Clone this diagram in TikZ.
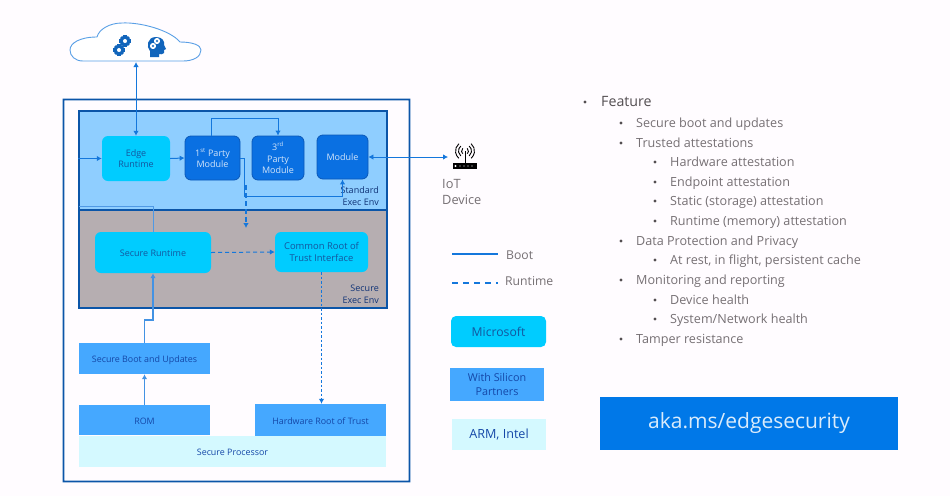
\documentclass[tikz,border=0pt]{standalone}
\usepackage{fontspec}
\setmainfont{Open Sans}
\usetikzlibrary{arrows.meta,calc}
\definecolor{bgc}{HTML}{FFFCFF}
\definecolor{framec}{HTML}{0B55A8}
\definecolor{stdfill}{HTML}{8FCEFF}
\definecolor{secfill}{HTML}{B6AEB1}
\definecolor{msfill}{HTML}{00CCFF}
\definecolor{modfill}{HTML}{0A70E2}
\definecolor{modline}{HTML}{0A58B8}
\definecolor{siliconfill}{HTML}{45A8FF}
\definecolor{armfill}{HTML}{D4F9FF}
\definecolor{akafill}{HTML}{0078E8}
\definecolor{conn}{HTML}{1477DC}
\definecolor{darktxt}{HTML}{14569E}
\definecolor{navytxt}{HTML}{1548A8}
\definecolor{greytxt}{HTML}{767074}
\tikzset{
  envbox/.style={draw=framec,line width=1.5pt,inner sep=0pt},
  msbox/.style={fill=msfill,rounded corners=6pt,inner sep=0pt,align=center,text=darktxt,font=\fontsize{9}{11.5}\selectfont},
  modbox/.style={fill=modfill,draw=modline,line width=.8pt,rounded corners=6pt,inner sep=0pt,align=center,text=white!82!modfill,font=\fontsize{9}{11.5}\selectfont},
  siliconbox/.style={fill=siliconfill,inner sep=0pt,align=center,text=navytxt,font=\fontsize{8.9}{11}\selectfont},
  armbox/.style={fill=armfill,inner sep=0pt,align=center,text=navytxt,font=\fontsize{8.9}{11}\selectfont},
  oneline/.style={text height=8pt,text depth=0pt},
  envlabel/.style={anchor=east,inner sep=0pt,align=right,text=navytxt!70!black,font=\fontsize{9}{12}\selectfont},
  boot/.style={draw=conn,line width=1pt,-{Latex[length=5pt,width=5.5pt]}},
  bootboth/.style={draw=conn,line width=1pt,{Latex[length=5pt,width=5.5pt]}-{Latex[length=5pt,width=5.5pt]}},
  runtime/.style={draw=conn,line width=1pt,dash pattern=on 4pt off 3pt,-{Latex[length=5pt,width=5.5pt]}},
  bul/.style={anchor=base west,inner sep=0pt,text=greytxt,font=\fontsize{12.6}{15}\selectfont},
  dotb/.style={circle,fill=greytxt!70!black,inner sep=0pt,minimum size=3.2pt},
  legendtxt/.style={anchor=west,inner sep=0pt,text=greytxt,font=\fontsize{12.2}{14}\selectfont},
}
\newcommand{\gearshape}[4]{% x y radius colour
  \foreach \a in {0,45,...,315}{
    \fill[#4,rotate around={\a:(#1,#2)}] ($(#1,#2)+(-#3*0.28,0)$) rectangle ($(#1,#2)+(#3*0.28,-#3)$);
  }
  \fill[#4] (#1,#2) circle[radius=#3*0.76];
  \fill[white] (#1,#2) circle[radius=#3*0.36];
}
\begin{document}
\begin{tikzpicture}[x=1pt,y=-1pt]
\useasboundingbox (0,0) rectangle (950,496);
\fill[bgc] (0,0) rectangle (950,496);

% outer frame, as a filled ring
\fill[framec,even odd rule] (62.6,98.6) rectangle (410.4,482.4) (64.4,100.4) rectangle (408.6,480.6);

% cloud
\draw[draw=conn!70,line width=.9pt,fill=white]
  (83,61) .. controls (75,61) and (70,56) .. (70,50)
  .. controls (70,43) and (80,37) .. (97,37)
  .. controls (99,29) and (110,23) .. (122,23)
  .. controls (140,22) and (170,30) .. (180,42)
  .. controls (192,42) and (201,45) .. (201,50)
  .. controls (201,57) and (193,61) .. (183,61) -- cycle;
\coordinate (cloudb) at (136,62);
\gearshape{125}{41}{5.6}{conn!85!black}
\gearshape{119}{50}{5.6}{conn!85!black}
\fill[conn!85!black] (150,57) -- (150,51) .. controls (146,47) and (147,37) .. (156,37)
  .. controls (162,37) and (165,41) .. (164,45) -- (166,49) -- (164,50) -- (164,53)
  .. controls (163,55) and (160,54) .. (159,54) -- (159,57) -- cycle;
\gearshape{157}{41}{3}{white}
\fill[conn!85!black] (157,41) circle[radius=1.1];
\gearshape{153}{46}{3}{white}
\fill[conn!85!black] (153,46) circle[radius=1.1];

% environments
\node[envbox,fill=stdfill,minimum width=308pt,minimum height=99pt] (stdenv) at (233,160.5) {};
\node[envbox,fill=secfill,minimum width=308pt,minimum height=98pt] (secenv) at (233,259) {};
\node[envlabel] (stdl) at (379,196) {Standard\\Exec Env};
\node[envlabel] (secl) at (379,294) {Secure\\Exec Env};

% boxes
\node[msbox,minimum width=68pt,minimum height=45pt] (edge) at (136,158.5) {Edge\\Runtime};
\node[modbox,minimum width=55pt,minimum height=44pt] (first) at (212.5,158) {1\textsuperscript{st} Party\\Module};
\node[modbox,minimum width=52pt,minimum height=44pt] (third) at (278,158) {3\textsuperscript{rd}\\Party\\Module};
\node[modbox,minimum width=51pt,minimum height=44pt] (module) at (342.5,157) {Module};
\node[msbox,oneline,minimum width=116pt,minimum height=41pt] (secrt) at (153,252.5) {Secure Runtime};
\node[msbox,font=\fontsize{9.4}{11.5}\selectfont,minimum width=93pt,minimum height=40pt] (crot) at (321.5,252) {Common Root of\\Trust Interface};
\node[siliconbox,oneline,minimum width=131pt,minimum height=31pt] (sboot) at (144.5,358.5) {Secure Boot and Updates};
\node[siliconbox,oneline,minimum width=131pt,minimum height=30pt] (rom) at (144.5,420) {ROM};
\node[siliconbox,oneline,minimum width=131pt,minimum height=32pt] (hwrot) at (320.5,420) {Hardware Root of Trust};
\node[armbox,oneline,minimum width=307pt,minimum height=31pt] (sproc) at (232.5,451.5) {Secure Processor};

% router
\fill[black] (453,163) rectangle (477,169);
\foreach \x in {460,464,468,472}{\fill[white] (\x,166) circle[radius=.6];}
\fill[white] (455.5,166) circle[radius=1.2];
\draw[black,line width=1pt] (465,151) -- (465,163);
\foreach \r in {3.5,6.5,9.5}{
  \draw[black,line width=.9pt] ($(465,151)+(-50:\r)$) arc[start angle=-50,end angle=50,radius=\r];
  \draw[black,line width=.9pt] ($(465,151)+(-130:\r)$) arc[start angle=-130,end angle=-230,radius=\r];
}
\coordinate (iot) at (448,157);
\node[legendtxt,align=left,font=\fontsize{12.8}{16}\selectfont] (iotl) at (442,192) {IoT\\Device};

% connectors
\draw[bootboth] (cloudb) -- (edge.north);
\draw[boot] (stdenv.west |- edge.west) -- (edge.west);
\draw[boot] (edge.east) -- (first.west);
\coordinate (tr) at (211,118);
\draw[boot] (tr |- first.north) -- (tr) -| (third.north);
\coordinate (br) at (244,196);
\draw[boot] (first.east) -- (first.east -| br) -- (br) -| (module.south);
\coordinate (dtop) at (246,185);
\coordinate (dbot) at (246,228);
\draw[runtime,line width=1.5pt,dash pattern=on 5pt off 3pt] (dtop) -- (dbot);
\draw[bootboth,line width=.8pt] (module.east) -- (iot);
\coordinate (secin) at (79,206);
\draw[boot,draw=conn!75,-] (secin) -| (secrt.north);
\coordinate (sb) at (153,320);
\draw[boot,draw=conn!80,line width=1.3pt] (sboot.north) -- (sboot.north |- sb) -- (sb) -- (secrt.south);
\draw[runtime] (secrt.east) -- (crot.west);
\draw[boot,draw=conn!80,line width=1.3pt] (rom.north) -- (sboot.south);
\draw[runtime,dash pattern=on 2.5pt off 2pt,line width=1pt] (crot.south) -- (hwrot.north -| crot.south);

% legend
\coordinate (l1a) at (452,254); \coordinate (l1b) at (498,254);
\coordinate (l2a) at (452,283); \coordinate (l2b) at (498,283);
\draw[conn,line width=1.1pt] (l1a) -- (l1b);
\draw[conn,line width=1.1pt,dash pattern=on 6pt off 5pt] (l2a) -- (l2b);
\node[legendtxt] (lboot) at (506,255) {Boot};
\node[legendtxt] (lrun) at (505,281) {Runtime};
\node[msbox,font=\fontsize{12.2}{13}\selectfont,minimum width=95pt,minimum height=31pt,rounded corners=5pt] (lms) at (498.5,331.5) {Microsoft};
\node[siliconbox,font=\fontsize{10.8}{13.5}\selectfont,minimum width=94pt,minimum height=33pt] (lsil) at (497,384.5) {With Silicon\\Partners};
\node[armbox,font=\fontsize{12.6}{13}\selectfont,minimum width=94pt,minimum height=31pt] (larm) at (499,434.5) {ARM, Intel};

% list
\node[dotb] (b0) at (585,102) {};
\node[bul,text=greytxt!70!black,font=\fontsize{14.2}{16}\selectfont] (t0) at (601,106.3) {Feature};
\foreach \y/\txt in {123/{Secure boot and updates},143/{Trusted attestations},241/{Data Protection and Privacy},280/{Monitoring and reporting},339/{Tamper resistance}}{
  \node[dotb] at (621,\y) {};
  \node[bul] at (636,\y+4.7) {\txt};
}
\foreach \y/\txt in {162/{Hardware attestation},182/{Endpoint attestation},201/{Static (storage) attestation},221/{Runtime (memory) attestation},260/{At rest, in flight, persistent cache},300/{Device health},319/{System/Network health}}{
  \node[dotb] at (655,\y) {};
  \node[bul] at (670,\y+4.7) {\txt};
}

% banner
\node[fill=akafill,minimum width=298pt,minimum height=53pt,inner sep=0pt,text=white!85!akafill,font=\fontsize{21}{24}\selectfont] (aka) at (749,423.5) {aka.ms/edgesecurity};
\end{tikzpicture}
\end{document}
